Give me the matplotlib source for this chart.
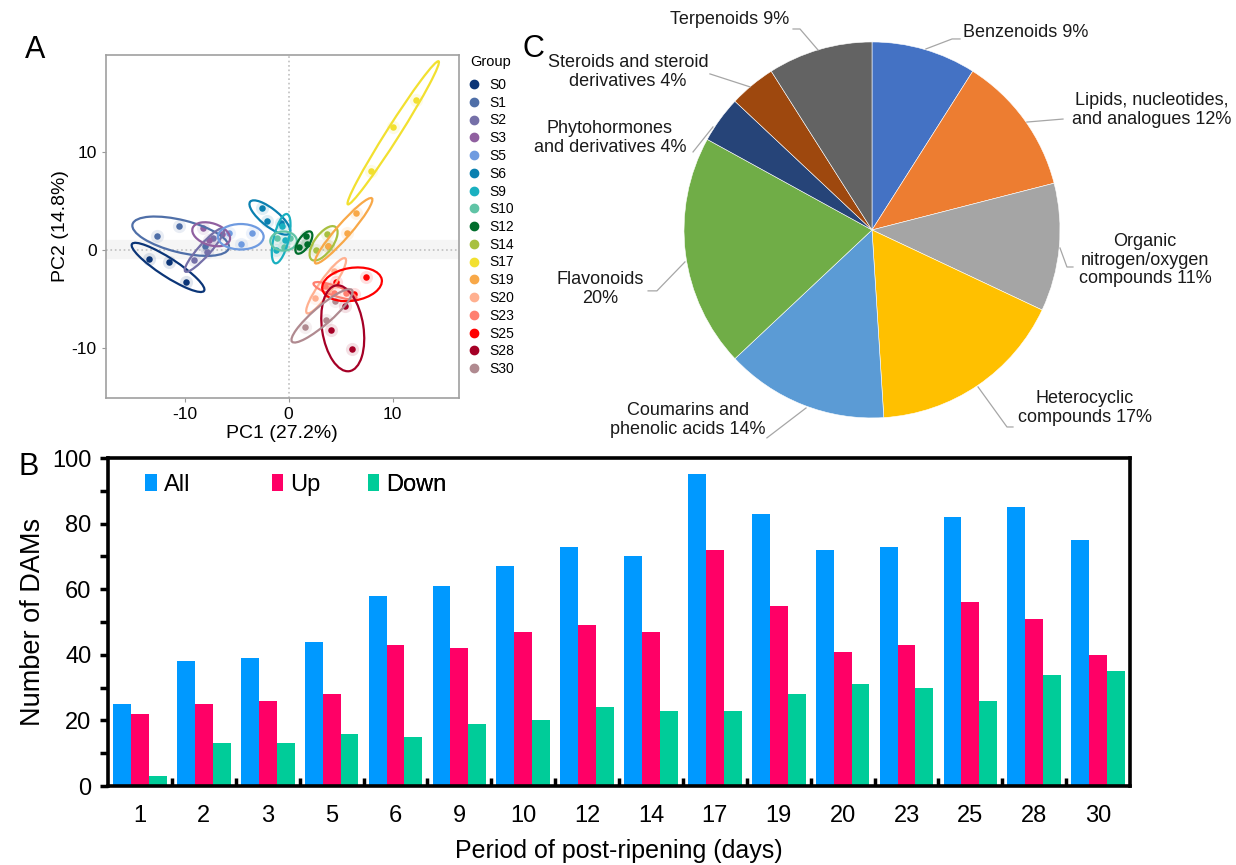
import numpy as np
import matplotlib
matplotlib.use("Agg")
import matplotlib.pyplot as plt
from matplotlib.patches import Ellipse
from matplotlib.lines import Line2D

plt.rcParams['font.family'] = ['Liberation Sans', 'DejaVu Sans']
plt.rcParams['axes.unicode_minus'] = False

# ---- datos panel A (PCA) ----
grupos = ['S0', 'S1', 'S2', 'S3', 'S5', 'S6', 'S9', 'S10', 'S12', 'S14',
          'S17', 'S19', 'S20', 'S23', 'S25', 'S28', 'S30']
colores_grupo = ['#0b3577', '#4f6fa8', '#7570a8', '#9060a0', '#6f9be0', '#0a80b0',
                 '#1ab0c0', '#60c4a6', '#006d2c', '#a8c040', '#f2e030', '#f8a848',
                 '#ffb090', '#ff7f70', '#ff0000', '#a50026', '#b08a90']
pc1 = [[-13.4, -11.5, -9.9], [-12.65, -10.5, -8.0], [-9.15, -7.84, -7.31],
       [-8.23, -7.67, -6.45], [-5.7, -4.6, -3.5], [-2.6, -2.1, -0.7],
       [-1.2, -0.31, -0.64], [-1.12, -0.48, 0.16], [1.0, 1.74, 1.67],
       [2.59, 3.8, 3.71], [7.9, 10.0, 12.3], [3.78, 5.6, 6.5],
       [2.53, 3.93, 4.37], [3.48, 4.36, 5.54], [4.59, 6.27, 7.45],
       [5.47, 4.07, 6.09], [1.6, 3.56, 4.48]]
pc2 = [[-0.9, -1.2, -3.2], [1.4, 2.4, 0.4], [-0.98, -0.22, 1.21],
       [2.22, 1.0, 1.58], [1.72, 0.6, 1.72], [4.3, 2.9, 2.7],
       [-0.05, 1.06, 2.45], [1.19, 0.35, 1.19], [0.29, 0.59, 1.39],
       [-0.02, 0.39, 1.66], [8.0, 12.5, 15.2], [0.43, 1.7, 3.73],
       [-4.92, -3.84, -2.13], [-3.63, -4.41, -4.39], [-3.26, -4.43, -2.76],
       [-5.69, -8.11, -10.05], [-7.81, -7.07, -5.18]]

# ---- datos panel B (barras) ----
dias = ['1', '2', '3', '5', '6', '9', '10', '12', '14', '17', '19', '20', '23', '25', '28', '30']
todos = [25, 38, 39, 44, 58, 61, 67, 73, 70, 95, 83, 72, 73, 82, 85, 75]
subida = [22, 25, 26, 28, 43, 42, 47, 49, 47, 72, 55, 41, 43, 56, 51, 40]
bajada = [3, 13, 13, 16, 15, 19, 20, 24, 23, 23, 28, 31, 30, 26, 34, 35]

# ---- datos panel C (tarta) ----
clases = ['Benzenoids', 'Lipids, nucleotides,\nand analogues', 'Organic\nnitrogen/oxygen\ncompounds',
          'Heterocyclic\ncompounds', 'Coumarins and\nphenolic acids', 'Flavonoids\n',
          'Phytohormones\nand derivatives', 'Steroids and steroid\nderivatives', 'Terpenoids']
porcentajes = [9, 12, 11, 17, 14, 20, 4, 4, 9]
colores_tarta = ['#4472c4', '#ed7d31', '#a5a5a5', '#ffc000', '#5b9bd5',
                 '#70ad47', '#264478', '#9e480e', '#636363']

fig = plt.figure(figsize=(12.36, 8.65), dpi=100)

# ================= Panel A =================
axA = fig.add_axes([0.0855, 0.5402, 0.2859, 0.3962])
axA.axhspan(-0.8, 1.0, color='#f5f5f5', zorder=0)
axA.axhline(0, color='#c0c0c0', ls=':', lw=1.2, zorder=1)
axA.axvline(0, color='#c0c0c0', ls=':', lw=1.2, zorder=1)
for i in range(len(grupos)):
    px = np.array(pc1[i])
    py = np.array(pc2[i])
    c = colores_grupo[i]
    axA.scatter(px, py, s=90, color=c, alpha=0.12, lw=0, zorder=2)
    axA.scatter(px, py, s=22, color=c, lw=0, zorder=3)
    # elipse de confianza 95%
    cov = np.cov(px, py, bias=True)
    vals, vecs = np.linalg.eigh(cov)
    ang = np.degrees(np.arctan2(vecs[1, 1], vecs[0, 1]))
    k = np.sqrt(5.991)
    el = Ellipse((px.mean(), py.mean()), 2 * k * np.sqrt(vals[1]), 2 * k * np.sqrt(max(vals[0], 0.02)),
                 angle=ang, fill=False, edgecolor=c, lw=1.6, zorder=4)
    axA.add_patch(el)
axA.set_xlim(-17.6, 16.4)
axA.set_ylim(-15.0, 19.8)
axA.set_xticks([-10, 0, 10])
axA.set_yticks([-10, 0, 10])
axA.tick_params(labelsize=12.5, colors='#999999', labelcolor='black', length=3)
for s in axA.spines.values():
    s.set_color('#a0a0a0')
    s.set_linewidth(1.2)
axA.set_xlabel('PC1 (27.2%)', fontsize=14, labelpad=2)
axA.set_ylabel('PC2 (14.8%)', fontsize=14, labelpad=2)

fig.text(470 / 1236, 1 - 66 / 865, 'Group', fontsize=10.5)
manijas = [Line2D([], [], marker='o', ls='', color=c, markersize=6) for c in colores_grupo]
axA.legend(manijas, grupos, loc='upper left', bbox_to_anchor=(467 / 1236, 1 - 78 / 865),
           bbox_transform=fig.transFigure, frameon=False, fontsize=10, handletextpad=0.6,
           labelspacing=0.27, borderaxespad=0, borderpad=0, handlelength=1.0)

fig.text(0.020, 0.933, 'A', fontsize=22)
fig.text(0.015, 0.451, 'B', fontsize=22)
fig.text(0.423, 0.934, 'C', fontsize=22)

# ================= Panel C =================
axC = fig.add_axes([0.5534, 0.5168, 0.3042, 0.4347])
axC.pie(porcentajes, colors=colores_tarta, startangle=90, counterclock=False,
        wedgeprops=dict(edgecolor='white', linewidth=0.4))
axC.set_xlim(-1, 1)
axC.set_ylim(-1, 1)
axC.set_aspect('equal')

etiquetas = [f'{n} {p}%' for n, p in zip(clases, porcentajes)]
etiquetas[5] = 'Flavonoids\n20%'
pos_texto = [(0.484, 1.053, 'left'), (1.489, 0.638, 'center'), (1.452, -0.160, 'center'),
             (1.133, -0.947, 'center'), (-0.979, -1.011, 'center'), (-1.447, -0.314, 'center'),
             (-1.394, 0.489, 'center'), (-1.298, 0.840, 'center'), (-0.755, 1.117, 'center')]
lineas = [[(0.287, 0.963), (0.426, 1.016), (0.468, 1.016)],
          [(0.824, 0.574), (1.016, 0.590)],
          [(1.0, -0.096), (1.037, -0.197), (1.069, -0.197)],
          [(0.564, -0.835), (0.718, -1.048), (0.75, -1.048)],
          [(-0.351, -0.947), (-0.559, -1.106)],
          [(-0.995, -0.170), (-1.144, -0.324), (-1.191, -0.324)],
          [(-0.846, 0.548), (-0.952, 0.415)],
          [(-0.862, 0.830), (-0.649, 0.761)],
          [(-0.420, 1.069), (-0.383, 1.069), (-0.287, 0.957)]]
for lab, (tx, ty, ha), ln in zip(etiquetas, pos_texto, lineas):
    axC.text(tx, ty, lab, ha=ha, va='center', fontsize=13, color='#1a1a1a',
             linespacing=1.15, clip_on=False)
    xs, ys = zip(*ln)
    axC.plot(xs, ys, color='#a6a6a6', lw=0.9, clip_on=False)

# ================= Panel B =================
axB = fig.add_axes([0.0874, 0.0913, 0.8269, 0.3792])
x = np.arange(len(dias))
w = 0.28
b1 = axB.bar(x - w, todos, w, color='#0099ff', label='All')
b2 = axB.bar(x, subida, w, color='#ff0066', label='Up')
b3 = axB.bar(x + w, bajada, w, color='#00cc99', label='Down')
axB.set_xlim(-0.5, len(dias) - 0.5)
axB.set_ylim(0, 100)
axB.set_xticks(x)
axB.set_xticklabels(dias)
axB.set_xticks(np.arange(0.5, len(dias) - 1, 1), minor=True)
axB.tick_params(axis='x', which='major', length=0, pad=14, labelsize=17)
axB.tick_params(axis='x', which='minor', direction='in', length=6, width=2.5)
axB.set_yticks(np.arange(0, 101, 20))
axB.set_yticks(np.arange(10, 100, 20), minor=True)
axB.tick_params(axis='y', which='both', direction='out', length=6, width=2.5, labelsize=17, pad=6)
for s in axB.spines.values():
    s.set_linewidth(2.6)
axB.set_xlabel('Period of post-ripening (days)', fontsize=18, labelpad=8)
axB.set_ylabel('Number of DAMs', fontsize=19.5, labelpad=4)

# leyenda: una entrada por serie, repartidas como en el original
for barras, xpos in zip([b1, b2, b3], [0.036, 0.160, 0.254]):
    lg = axB.legend([barras], [barras.get_label()], loc='center left', bbox_to_anchor=(xpos, 0.918),
                    frameon=False, fontsize=17, handlelength=0.5, handleheight=0.7,
                    handletextpad=0.3, borderpad=0, borderaxespad=0)
    axB.add_artist(lg)

fig.savefig('out.png', dpi=100)
